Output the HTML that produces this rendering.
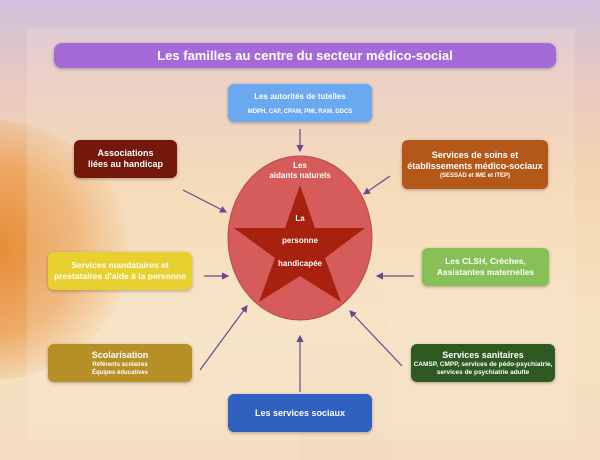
<!DOCTYPE html>
<html style="overflow:hidden;width:600px;height:460px"><head><meta charset="utf-8"><style>
body{margin:0;width:600px;height:460px;overflow:hidden;position:relative;font-family:"Liberation Sans",sans-serif;}
.bg{position:absolute;left:0;top:0;width:600px;height:460px;background:linear-gradient(180deg,#cfc0dc 0%,#e9c9c0 18%,#f3d6b0 40%,#f6e2c2 70%,#f3dcc0 100%);}
.frame{position:absolute;left:27px;top:28px;width:548px;height:412px;background:rgba(255,245,230,0.18);}
.glow{position:absolute;left:-150px;top:120px;width:280px;height:260px;border-radius:50%;background:radial-gradient(circle,#e58a30 0%,rgba(234,150,70,0.7) 45%,rgba(240,200,150,0) 75%);}
.trunk{position:absolute;left:300px;top:260px;width:90px;height:200px;border-radius:50% 50% 0 0;background:rgba(240,215,185,0.3);}
.box{position:absolute;color:#fff;font-weight:bold;text-align:center;border-radius:6px;box-shadow:0 1px 3px rgba(0,0,0,0.3);display:flex;flex-direction:column;justify-content:center;align-items:center;font-size:9px;line-height:11px;}
.sm{font-size:6px;line-height:8px;}
</style></head><body>
<div class="bg"></div><div class="glow"></div><div class="trunk"></div><div class="frame"></div>
<div class="box" style="left:54px;top:43px;width:502px;height:25px;background:#a56ad8;font-size:13px;border-radius:8px">Les familles au centre du secteur médico-social</div>
<div class="box" style="left:228px;top:84px;width:144px;height:38px;background:#6aa8f0;font-size:8px">Les autorités de tutelles<div class="sm" style="margin-top:6px">MDPH, CAF, CPAM, PMI, RAM, DDCS</div></div>
<div class="box" style="left:74px;top:140px;width:103px;height:38px;background:#74180c">Associations<br>liées au handicap</div>
<div class="box" style="left:402px;top:140px;width:146px;height:49px;background:#b4581a">Services de soins et<br>établissements médico-sociaux<div class="sm">(SESSAD et IME et ITEP)</div></div>
<div class="box" style="left:48px;top:252px;width:144px;height:38px;background:#e8d030;font-size:8.5px">Services mandataires et<br>prestataires d'aide à la personne</div>
<div class="box" style="left:422px;top:248px;width:127px;height:38px;background:#86c056;font-size:8.5px">Les CLSH, Crèches,<br>Assistantes maternelles</div>
<div class="box" style="left:48px;top:344px;width:144px;height:38px;background:#b49026">Scolarisation<div class="sm">Référents scolaires<br>Équipes éducatives</div></div>
<div class="box" style="left:411px;top:344px;width:144px;height:38px;background:#2e5a22">Services sanitaires<div class="sm" style="font-size:6.5px">CAMSP, CMPP, services de pédo-psychiatrie,<br>services de psychiatrie adulte</div></div>
<div class="box" style="left:228px;top:394px;width:144px;height:38px;background:#3060c0">Les services sociaux</div>
<svg width="600" height="460" style="position:absolute;left:0;top:0">
<defs><marker id="a" markerWidth="6" markerHeight="6" refX="5" refY="3" orient="auto"><path d="M0,0L6,3L0,6z" fill="#6a4a8a"/></marker></defs>
<g stroke="#6a4a8a" stroke-width="1.2" marker-end="url(#a)">
<line x1="300" y1="129" x2="300" y2="151"/>
<line x1="183" y1="190" x2="226" y2="212"/>
<line x1="390" y1="176" x2="364" y2="194"/>
<line x1="204" y1="276" x2="228" y2="276"/>
<line x1="414" y1="276" x2="377" y2="276"/>
<line x1="200" y1="370" x2="247" y2="306"/>
<line x1="402" y1="366" x2="350" y2="311"/>
<line x1="300" y1="392" x2="300" y2="336"/>
</g>
<ellipse cx="300" cy="238" rx="72" ry="82" fill="#d65c5c" stroke="#b84a4a"/>
<polygon points="300,185 315,228 365,228 325,258 341,302 300,276 259,302 275,258 234,228 285,228" fill="#a8200e"/>
<g fill="#fff" font-weight="bold" font-size="8" text-anchor="middle">
<text x="300" y="168">Les</text><text x="300" y="178">aidants naturels</text>
<text x="300" y="221">La</text><text x="300" y="243">personne</text><text x="300" y="266">handicapée</text>
</g></svg>
</body></html>
